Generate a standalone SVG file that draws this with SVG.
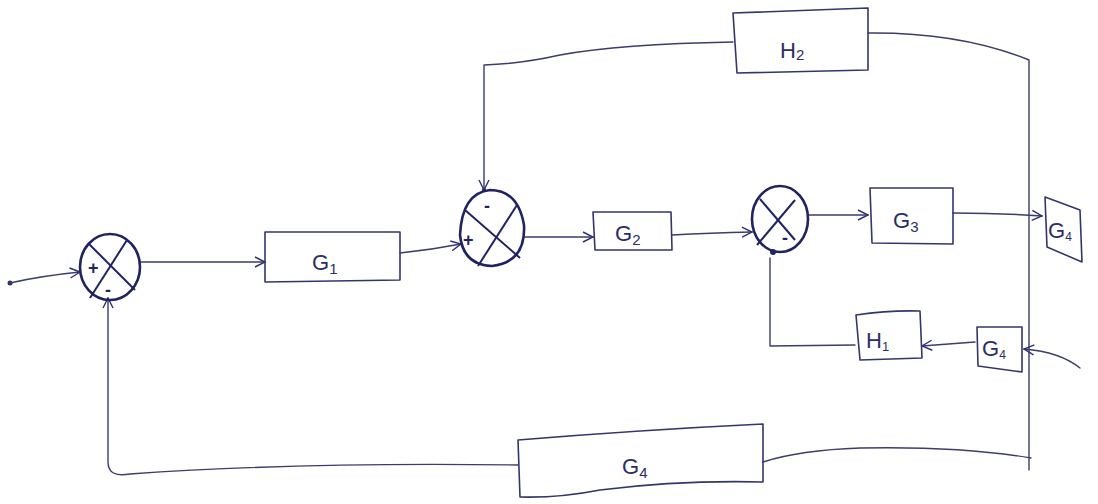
<svg xmlns="http://www.w3.org/2000/svg" width="1098" height="504" viewBox="0 0 1098 504">
<defs>
<marker id="arr" viewBox="0 0 12 12" refX="11" refY="6" markerWidth="12" markerHeight="12" markerUnits="userSpaceOnUse" orient="auto">
<polyline points="1,1 11,6 1,11" fill="none" stroke="#2d3170" stroke-width="1.4"/>
</marker>
</defs>
<style>
.w{fill:none;stroke:#3a3d6e;stroke-width:1.4;stroke-linecap:round;stroke-linejoin:round}
.b{fill:none;stroke:#33366c;stroke-width:1.6;stroke-linejoin:round}
.j{fill:none;stroke:#1f2460;stroke-width:2.6}
.jx{fill:none;stroke:#1f2460;stroke-width:2}
.t{font-family:"Liberation Sans",Arial,sans-serif;fill:#2a2e66;font-size:22px}
.s{font-family:"Liberation Sans",Arial,sans-serif;fill:#1f2460;font-size:18px;font-weight:bold}
</style>
<rect width="1098" height="504" fill="#ffffff"/>

<g id="connectors">
<circle cx="10" cy="283" r="2.5" fill="#2d3170"/>
<path class="w" d="M10,283 Q40,276 80,272" marker-end="url(#arr)"/>
<path class="w" d="M140,262 L265,262" marker-end="url(#arr)"/>
<path class="w" d="M400,253 Q430,250 461,244" marker-end="url(#arr)"/>
<path class="w" d="M525,237 L593,237" marker-end="url(#arr)"/>
<path class="w" d="M672,235 Q710,233 752,232" marker-end="url(#arr)"/>
<path class="w" d="M808,215 L868,215" marker-end="url(#arr)"/>
<path class="w" d="M953,213 Q1000,213 1042,216" marker-end="url(#arr)"/>
<path class="w" d="M733,42 Q620,44 560,55 Q520,64 484,65 L484,190" marker-end="url(#arr)"/>
<circle cx="484" cy="190" r="2.2" fill="#2d3170"/>
<path class="w" d="M868,33 Q960,32 1029,60 L1029,470"/>
<path class="w" d="M763,462 Q800,450 860,448 Q960,446 1031,458"/>
<path class="w" d="M518,465 Q300,462 130,474 Q108,478 108,462 L108,298" marker-end="url(#arr)"/>
<path class="w" d="M1080,368 Q1060,352 1024,349" marker-end="url(#arr)"/>
<path class="w" d="M975,342 L922,346" marker-end="url(#arr)"/>
<path class="w" d="M855,345 L770,346 L770,258" />
<circle cx="773" cy="252" r="3" fill="#1f2460"/>
</g>

<g id="sum1">
<ellipse class="j" cx="110" cy="267" rx="30" ry="33"/>
<line class="jx" x1="88" y1="243" x2="135" y2="290"/>
<line class="jx" x1="90" y1="298" x2="127" y2="240"/>
<text class="s" x="88" y="274">+</text>
<text class="s" x="105" y="296">-</text>
</g>

<g id="sum2">
<path class="j" d="M490,190 Q518,190 524,225 Q526,262 492,266 Q463,265 460,235 Q462,193 490,190 Z"/>
<line class="jx" x1="465" y1="210" x2="520" y2="258"/>
<line class="jx" x1="478" y1="266" x2="517" y2="205"/>
<text class="s" x="484" y="212">-</text>
<text class="s" x="463" y="246">+</text>
</g>

<g id="sum3">
<ellipse class="j" cx="780" cy="219" rx="28" ry="33"/>
<line class="jx" x1="760" y1="199" x2="795" y2="240"/>
<line class="jx" x1="757" y1="245" x2="795" y2="200"/>
<text class="s" x="782" y="244">-</text>
</g>

<g id="G1">
<path class="b" d="M265,232 L400,232 L400,280 L265,282 Z"/>
<text class="t" x="312" y="270">G<tspan font-size="15" dy="4">1</tspan></text>
</g>

<g id="G2">
<path class="b" d="M593,212 L671,212 L672,250 L595,250 Z"/>
<text class="t" x="615" y="241">G<tspan font-size="15" dy="4">2</tspan></text>
</g>

<g id="G3">
<path class="b" d="M870,188 L953,188 L953,244 L872,243 Z"/>
<text class="t" x="893" y="228">G<tspan font-size="15" dy="4">3</tspan></text>
</g>

<g id="G4a">
<path class="b" d="M1045,197 L1080,210 L1082,262 L1047,247 Z"/>
<text class="t" x="1048" y="238" font-size="16">G<tspan font-size="12" dy="3">4</tspan></text>
</g>

<g id="H2">
<path class="b" d="M733,13 L868,8 L868,70 L737,73 Z"/>
<text class="t" x="780" y="58">H<tspan font-size="15" dy="2">2</tspan></text>
</g>

<g id="H1">
<path class="b" d="M856,315 Q890,310 920,311 L922,358 L860,360 Z"/>
<text class="t" x="866" y="348" font-size="18">H<tspan font-size="13" dy="3">1</tspan></text>
</g>

<g id="G4b">
<path class="b" d="M977,327 L1022,327 L1022,372 L978,366 Z"/>
<text class="t" x="982" y="356" font-size="17">G<tspan font-size="12" dy="3">4</tspan></text>
</g>

<g id="G4c">
<path class="b" d="M518,440 Q640,430 763,424 L763,482 Q680,480 600,490 Q560,498 520,497 Z"/>
<text class="t" x="622" y="474">G<tspan font-size="15" dy="4">4</tspan></text>
</g>
</svg>
